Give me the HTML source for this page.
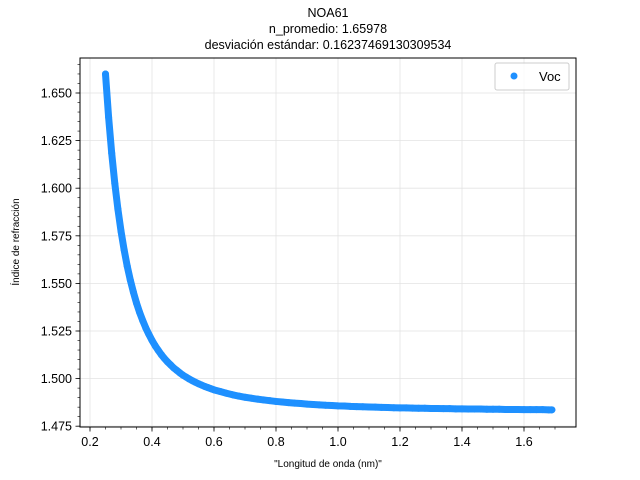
<!DOCTYPE html>
<html><head><meta charset="utf-8"><style>
body{margin:0;background:#fff;}
svg{display:block;font-family:"Liberation Sans","DejaVu Sans",sans-serif;}
</style></head><body>
<svg id="chart" width="640" height="480" viewBox="0 0 640 480" xmlns="http://www.w3.org/2000/svg">
<rect width="640" height="480" fill="#fff"/>
<text x="328" y="17" text-anchor="middle" font-size="12.5">NOA61</text>
<text x="328" y="33" text-anchor="middle" font-size="12.5">n_promedio: 1.65978</text>
<text x="328" y="49" text-anchor="middle" font-size="12.5">desviación estándar: 0.16237469130309534</text>
<g id="grid"></g>
<g id="marks"></g>
<rect x="80" y="58" width="496" height="369" fill="none" stroke="#000" stroke-width="1"/>
<g id="axes"></g>
<text x="328" y="467" text-anchor="middle" font-size="10">"Longitud de onda (nm)"</text>
<text transform="translate(19,242) rotate(-90)" text-anchor="middle" font-size="10">Índice de refracción</text>
<g>
<rect x="495" y="63" width="74" height="27" rx="2" fill="#fff" fill-opacity="0.8" stroke="#ccc"/>
<circle cx="514" cy="76" r="3.5" fill="#1e90ff"/>
<text x="539" y="81" font-size="13">Voc</text>
</g>
</svg>
<script>
const wavelengths=[0.25,0.26,0.27,0.28,0.29,0.30,0.31,0.32,0.33,0.34,0.35,0.36,0.37,0.38,0.39,0.40,0.41,0.42,0.43,0.44,0.45,0.46,0.47,0.48,0.49,0.50,0.51,0.52,0.53,0.54,0.55,0.56,0.57,0.58,0.59,0.60,0.62,0.64,0.66,0.68,0.70,0.72,0.74,0.76,0.78,0.80,0.82,0.84,0.86,0.88,0.90,0.92,0.94,0.96,0.98,1.00,1.02,1.04,1.06,1.08,1.10,1.12,1.14,1.16,1.18,1.20,1.22,1.24,1.26,1.28,1.30,1.32,1.34,1.36,1.38,1.40,1.42,1.44,1.46,1.48,1.50,1.52,1.54,1.56,1.58,1.60,1.62,1.64,1.66,1.68,1.69];
const nValues=[1.6600,1.6373,1.6184,1.6025,1.5890,1.5775,1.5677,1.5591,1.5518,1.5454,1.5397,1.5348,1.5305,1.5266,1.5232,1.5201,1.5173,1.5149,1.5126,1.5106,1.5088,1.5072,1.5056,1.5043,1.5030,1.5018,1.5008,1.4998,1.4989,1.4981,1.4973,1.4966,1.4959,1.4953,1.4947,1.4941,1.4932,1.4923,1.4915,1.4908,1.4902,1.4897,1.4892,1.4888,1.4884,1.4880,1.4877,1.4874,1.4871,1.4869,1.4866,1.4864,1.4862,1.4860,1.4859,1.4857,1.4856,1.4854,1.4853,1.4852,1.4851,1.4850,1.4849,1.4848,1.4847,1.4846,1.4846,1.4845,1.4844,1.4844,1.4843,1.4843,1.4842,1.4842,1.4841,1.4841,1.4840,1.4840,1.4840,1.4839,1.4839,1.4839,1.4838,1.4838,1.4838,1.4837,1.4837,1.4837,1.4837,1.4836,1.4836];
const xTicks=[0.2,0.4,0.6,0.8,1.0,1.2,1.4,1.6];
const xTickLabels=["0.2","0.4","0.6","0.8","1.0","1.2","1.4","1.6"];
const yTicks=[1.475,1.500,1.525,1.550,1.575,1.600,1.625,1.650];
const yTickLabels=["1.475","1.500","1.525","1.550","1.575","1.600","1.625","1.650"];

const NS="http://www.w3.org/2000/svg";
function sx(v){return 90+(v-0.2)*310;}
function sy(v){return 93+(1.650-v)*1904;}
function mk(tag,attrs,parent){const e=document.createElementNS(NS,tag);for(const k in attrs)e.setAttribute(k,attrs[k]);parent.appendChild(e);return e;}
const grid=document.getElementById('grid'),axes=document.getElementById('axes'),marks=document.getElementById('marks');
xTicks.forEach((t,i)=>{
  const x=sx(t);
  const g=mk('line',{x1:x,x2:x,y1:58,y2:427,stroke:'#e3e3e3','stroke-width':0.8},grid);
  
  
  const tk=mk('line',{x1:x,x2:x,y1:427,y2:431.5,stroke:'#000','stroke-width':0.8},axes);
  
  
  const tx=mk('text',{x:x,y:446,'text-anchor':'middle','font-size':12.5},axes);
  tx.textContent=xTickLabels[i];
  
  
});
for(let v=0.15;v<=1.75;v+=0.05){
  const x=sx(v); if(x<80||x>576)continue;
  const m=mk('line',{x1:x,x2:x,y1:427,y2:429.5,stroke:'#000','stroke-width':0.6},axes);
  
  
}
yTicks.forEach((t,i)=>{
  const y=sy(t);
  const g=mk('line',{x1:80,x2:576,y1:y,y2:y,stroke:'#e3e3e3','stroke-width':0.8},grid);
  
  
  const tk=mk('line',{x1:75.5,x2:80,y1:y,y2:y,stroke:'#000','stroke-width':0.8},axes);
  
  
  const tx=mk('text',{x:72,y:y+4.5,'text-anchor':'end','font-size':12.5},axes);
  tx.textContent=yTickLabels[i];
  
  
});
for(let v=1.470;v<=1.670;v+=0.005){
  const y=sy(v); if(y<58||y>427)continue;
  const m=mk('line',{x1:77.5,x2:80,y1:y,y2:y,stroke:'#000','stroke-width':0.6},axes);
  
  
}
const pts=wavelengths.map((w,i)=>sx(w).toFixed(2)+','+sy(nValues[i]).toFixed(2)).join(' ');
const band=mk('polyline',{points:pts,fill:'none',stroke:'#1e90ff','stroke-width':7,'stroke-linecap':'round','stroke-linejoin':'round'},marks);


wavelengths.forEach((w,i)=>{
  const c=mk('circle',{cx:sx(w),cy:sy(nValues[i]),r:3.5,fill:'#1e90ff'},marks);
  
  
});
</script>
</body></html>
